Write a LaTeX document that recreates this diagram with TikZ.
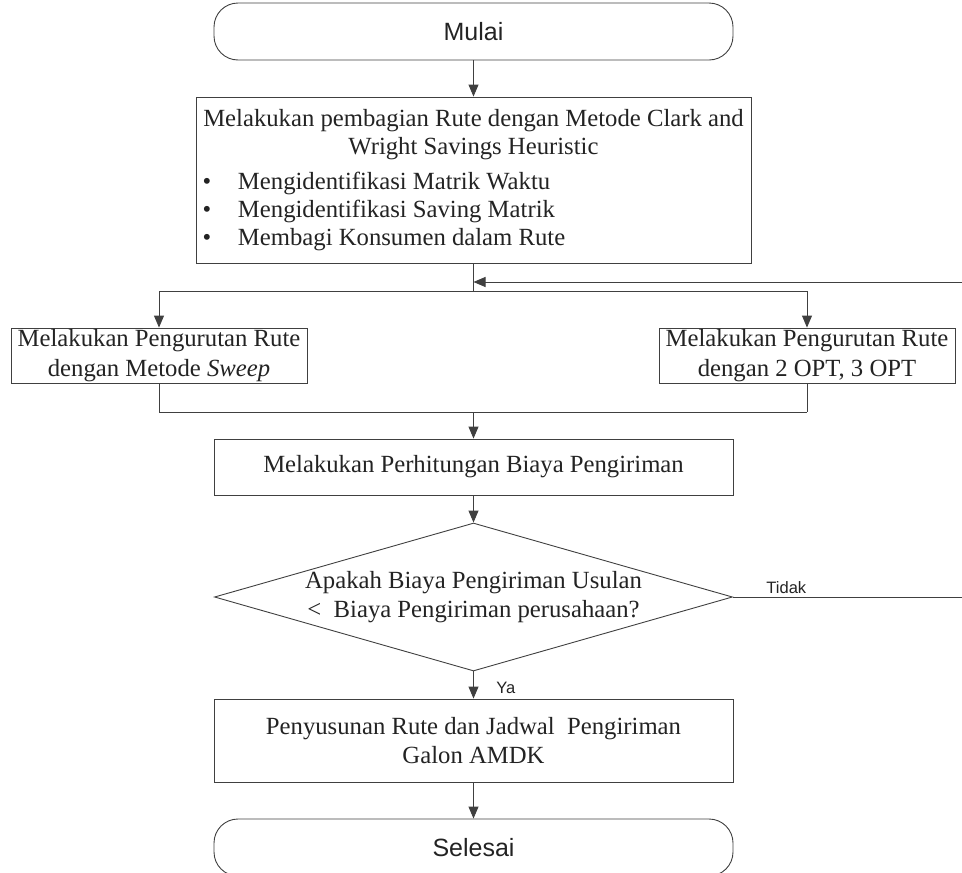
\documentclass[tikz,border=0pt]{standalone}
\usepackage{fontspec}
\setmainfont{Liberation Serif}
\newfontfamily\arialfont{Liberation Sans}
\usepackage{tikz}
\usetikzlibrary{arrows.meta, shapes.geometric}

\definecolor{linegray}{RGB}{64,64,64}
\definecolor{textgray}{RGB}{35,35,35}
\newcommand{\bul}[1]{\makebox[548pt][l]{\makebox[38.5pt][l]{\hspace{3pt}\textbullet}#1}}

\begin{document}
\begin{tikzpicture}[x=1pt, y=-1pt, line width=0.9pt, draw=linegray,
        terminal/.style={draw=linegray, text=textgray, rounded corners=24pt, minimum width=519pt, minimum height=57pt, inner sep=0pt, font=\arialfont\fontsize{25}{30}\selectfont},
        process/.style={draw=linegray, text=textgray, align=center, inner sep=0pt, font=\fontsize{24.7}{29.2}\selectfont},
        decision/.style={draw=linegray, text=textgray, diamond, aspect=3.5, align=center, inner sep=0pt, minimum width=518pt, minimum height=148pt, font=\fontsize{24.7}{29.2}\selectfont},
        lbl/.style={text=textgray, inner sep=0pt, font=\arialfont\fontsize{16.5}{20}\selectfont},
        flow/.style={draw=linegray, -{Triangle[length=12pt, width=10pt]}}]
        \clip (0,0) rectangle (962,873);

        % Start and first step
        \node[terminal] (start) at (473.5,31.5) {Mulai};
        \node[process, minimum width=555pt, minimum height=166pt, font=\fontsize{24.7}{28}\selectfont] (split) at (473.5,180) {%
            Melakukan pembagian Rute dengan Metode Clark and\\
            Wright Savings Heuristic\\[7pt]
            \bul{Mengidentifikasi Matrik Waktu}\\
            \bul{Mengidentifikasi Saving Matrik}\\
            \bul{Membagi Konsumen dalam Rute}};

        % Two ways of ordering the routes
        \node[process, minimum width=296pt, minimum height=55pt] (sweep) at (159,355.5) {Melakukan Pengurutan Rute\\dengan Metode \textit{Sweep}};
        \node[process, minimum width=296pt, minimum height=55pt] (opt) at (807,355.5) {Melakukan Pengurutan Rute\\dengan 2 OPT, 3 OPT};

        % Cost, check and result
        \node[process, minimum width=519pt, minimum height=56pt] (cost) at (473.5,467) {Melakukan Perhitungan Biaya Pengiriman};
        \node[decision] (check) at (473.5,597) {Apakah Biaya Pengiriman Usulan\\<~~Biaya Pengiriman perusahaan?};
        \node[process, minimum width=519pt, minimum height=83pt] (plan) at (473.5,740.5) {Penyusunan Rute dan Jadwal\ \ Pengiriman\\Galon AMDK};
        \node[terminal] (stop) at (473.5,847.5) {Selesai};

        % Branch points
        \coordinate (fork) at (473.5,291);
        \coordinate (join) at (473.5,412);
        \coordinate (back) at (980,282);

        \draw[flow] (start) -- (split);
        \draw (split) -- (fork);
        \draw (sweep |- fork) -- (opt |- fork);
        \foreach \b in {sweep, opt} {
            \draw[flow] (\b |- fork) -- (\b);
            \draw (\b) -- (\b |- join);
        }
        \draw (sweep |- join) -- (opt |- join);
        \draw[flow] (join) -- (cost);
        \draw[flow] (cost) -- (check);
        \draw[flow] (check) -- (plan);
        \draw[flow] (plan) -- (stop);

        % Loop back when the cost is not lower
        \draw[flow] (check.east) -- (back |- check) -- (back) -- (fork |- back);
        \node[lbl, anchor=base west] (no) at (766,593) {Tidak};
        \node[lbl, anchor=base west] (yes) at (496,693) {Ya};
    \end{tikzpicture}
\end{document}
